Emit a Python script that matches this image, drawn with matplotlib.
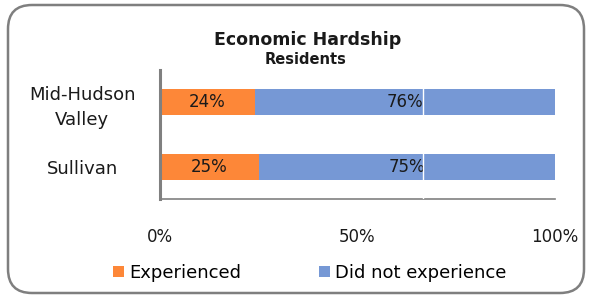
import matplotlib.pyplot as plt
from matplotlib.patches import FancyBboxPatch

categories = ["Mid-Hudson\nValley", "Sullivan"]
experienced = [24, 25]
not_experienced = [76, 75]
series_names = ["Experienced", "Did not experience"]
colors = ["#fd8738", "#7698d5"]
xticks = [0, 50, 100]

fig = plt.figure(figsize=(5.9, 3.02), dpi=100)
W, H = 590, 302

# rounded outer frame, drawn in pixels
frame = FancyBboxPatch((8, 9), 576, 288,
                       boxstyle="round,pad=0,rounding_size=24",
                       transform=None, facecolor="white",
                       edgecolor="#7f7f7f", linewidth=1.8, zorder=-10)
fig.patches.append(frame)

ax = fig.add_axes([160 / W, 1 - 199 / H, 395 / W, 129 / H])
ax.set_facecolor("none")

y = [0, 1]
ax.barh(y, experienced, height=0.41, color=colors[0], label=series_names[0])
ax.barh(y, not_experienced, left=experienced, height=0.41, color=colors[1],
        label=series_names[1])

for i in range(len(categories)):
    ax.text(experienced[i] / 2, y[i], f"{experienced[i]}%", ha="center",
            va="center", fontsize=12, color="#1a1a1a")
    ax.text(experienced[i] + not_experienced[i] / 2, y[i],
            f"{not_experienced[i]}%", ha="center", va="center",
            fontsize=12, color="#1a1a1a")

ax.axvline(66.5, color="white", linewidth=1, zorder=5)

ax.set_xlim(0, 100)
ax.set_ylim(1.5, -0.5)
ax.set_yticks(y)
ax.set_yticklabels(categories, fontsize=13, color="#1a1a1a", ha="center",
                   linespacing=1.45)
ax.tick_params(axis="y", length=0, pad=56)
ax.set_xticks(xticks)
ax.set_xticklabels([f"{t}%" for t in xticks], fontsize=12, color="#1a1a1a")
ax.tick_params(axis="x", length=0, pad=21)

for s in ["top", "right"]:
    ax.spines[s].set_visible(False)
ax.spines["left"].set_color("#808080")
ax.spines["left"].set_linewidth(2.2)
ax.spines["bottom"].set_color("#808080")
ax.spines["bottom"].set_linewidth(1.2)

fig.text(308 / W, 1 - 40 / H, "Economic Hardship", ha="center", va="center",
         fontsize=12.5, fontweight="bold", color="#1a1a1a")
fig.text(306 / W, 1 - 60 / H, "Residents", ha="center", va="center",
         fontsize=10.5, fontweight="bold", color="#1a1a1a")

fig.legend(loc="center", bbox_to_anchor=(310 / W, 1 - 273 / H), ncol=2,
           frameon=False, fontsize=13, handlelength=0.6, handleheight=0.6,
           handletextpad=0.3, columnspacing=4.3)

fig.savefig("out.png", dpi=100)
